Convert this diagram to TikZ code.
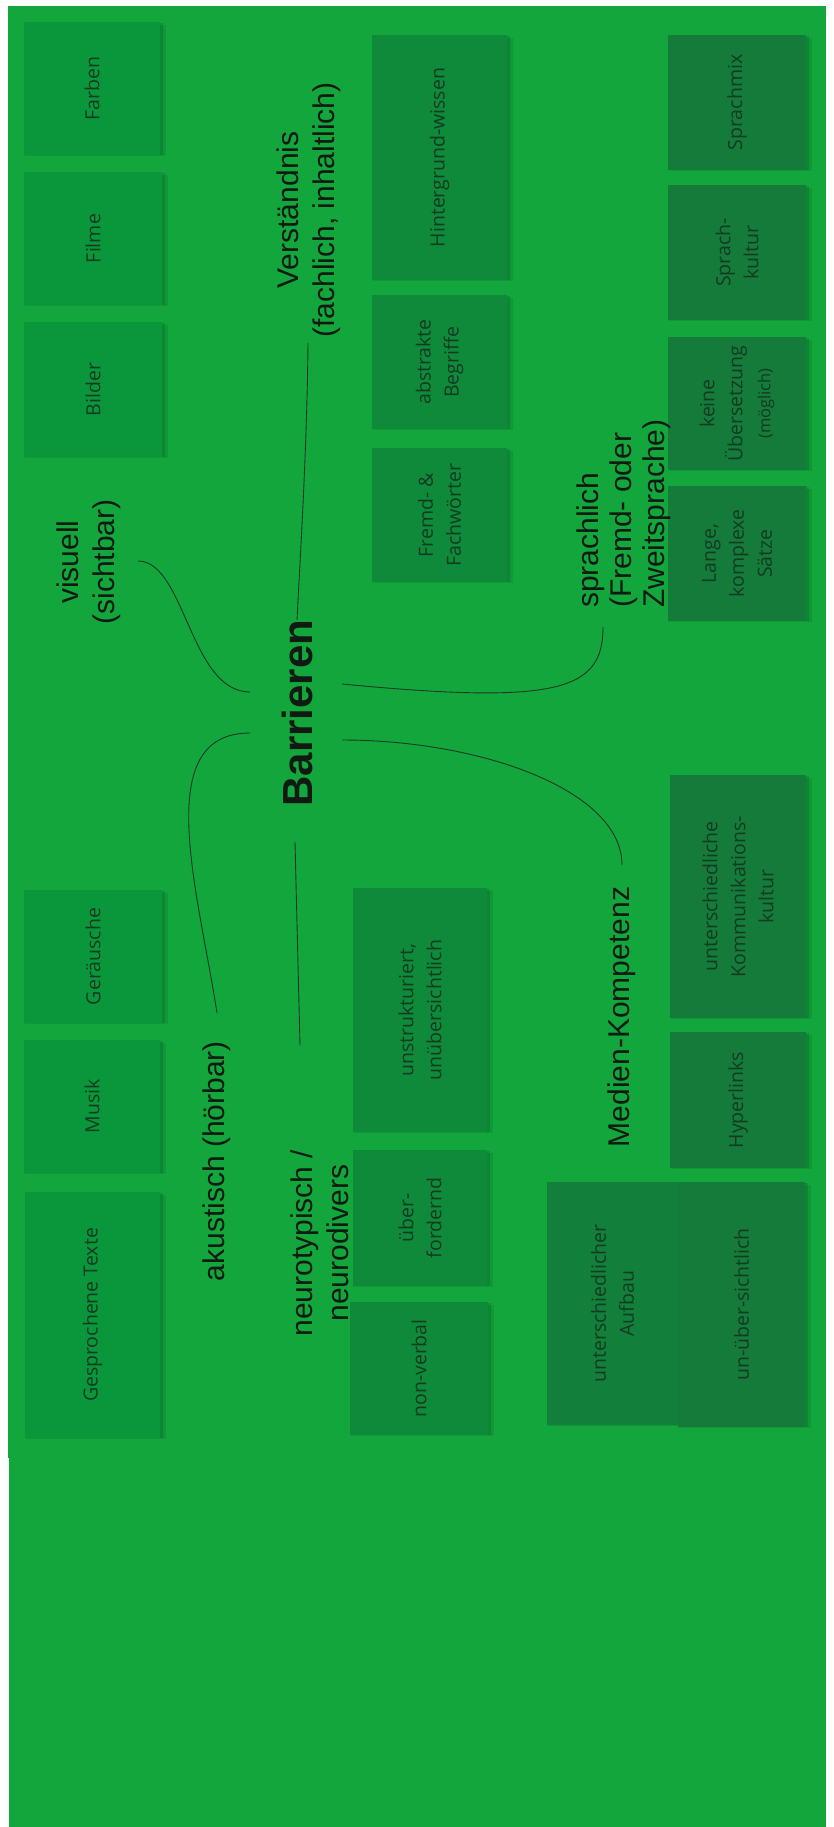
\documentclass[tikz,border=0pt]{standalone}
\usepackage{fontspec}
\setmainfont{Liberation Sans}
\newfontfamily\notefamily{Open Sans}
\usetikzlibrary{calc}

\definecolor{paper}{HTML}{12A63D}
\definecolor{noteA}{HTML}{0A963A}
\definecolor{noteB}{HTML}{0E8A3A}
\definecolor{noteBB}{HTML}{12803A}
\definecolor{noteC}{HTML}{157B3A}
\definecolor{inkc}{HTML}{101A12}
\definecolor{notetext}{HTML}{143A22}
\definecolor{linec}{HTML}{1E3A26}

% sticky note: name, x1, y1, x2, y2, colour, text (text runs bottom to top)
\newcommand\postit[7]{%
  \pgfmathsetmacro\postitlen{#5-#3}%
  \pgfmathsetmacro\postitdep{#4-#2}%
  \fill[black,opacity=.08] (#2+1,#3+3) rectangle (#4+6,#5+1);
  \fill[black,opacity=.12] (#2+1,#3+1) rectangle (#4+3,#5);
  \node[stickynote, fill=#6, minimum width=\postitlen pt, minimum height=\postitdep pt]
    (#1) at ({(#2+#4)/2},{(#3+#5)/2}) {#7};
}

\begin{document}
\begin{tikzpicture}[x=1pt,y=-1pt,
  cat/.style={rotate=90, align=center, inner sep=0, text=inkc,
              font=\fontsize{30}{36}\selectfont},
  stickynote/.style={rotate=90, align=center, inner sep=0, text=notetext,
              font=\notefamily\fontsize{19.5}{28}\selectfont},
  conn/.style={draw=linec, line width=0.9pt}]

\useasboundingbox (0,0) rectangle (833,1827);
\fill[white] (0,0) rectangle (833,1827);
\fill[paper] (8,6) rectangle (826,1458);
\fill[paper] (9,1458) rectangle (826,1827);

% visual barriers
\postit{farben}{24}{22}{160}{155}{noteA}{Farben}
\postit{filme}{24}{172}{162}{305}{noteA}{Filme}
\postit{bilder}{24}{322}{162}{457}{noteA}{Bilder}
% acoustic barriers
\postit{geraeusche}{24}{890}{162}{1023}{noteA}{Geräusche}
\postit{musik}{24}{1040}{160}{1173}{noteA}{Musik}
\postit{gesprochen}{25}{1192}{160}{1438}{noteA}{Gesprochene Texte}
% understanding
\postit{hintergrund}{372}{35}{507}{280}{noteB}{Hintergrund-wissen}
\postit{abstrakt}{372}{295}{507}{429}{noteB}{abstrakte\\Begriffe}
\postit{fremd}{372}{448}{507}{582}{noteB}{Fremd- \&\\Fachwörter}
% neurotypical / neurodivergent
\postit{unstrukt}{353}{888}{487}{1132}{noteB}{unstrukturiert,\\unübersichtlich}
\postit{ueberf}{353}{1150}{487}{1286}{noteB}{über-\\fordernd}
\postit{nonverbal}{350}{1302}{488}{1435}{noteB}{non-verbal}
% language
\postit{sprachmix}{668}{35}{806}{170}{noteC}{Sprachmix}
\postit{sprachkultur}{668}{185}{806}{320}{noteC}{Sprach-\\kultur}
\postit{keine}{668}{337}{806}{470}{noteC}{keine\\Übersetzung\\{\fontsize{16.5}{24}\selectfont(möglich)}}
\postit{lange}{668}{486}{806}{621}{noteC}{Lange,\\komplexe\\Sätze}
% media literacy
\postit{kommkultur}{670}{775}{806}{1018}{noteC}{unterschiedliche\\Kommunikations-\\kultur}
\postit{hyperlinks}{670}{1032}{806}{1168}{noteC}{Hyperlinks}
\postit{aufbau}{547}{1182}{678}{1425}{noteBB}{unterschiedlicher\\Aufbau}
\postit{unueber}{678}{1182}{805}{1427}{noteC}{un-über-sichtlich}

% centre and categories
\node[rotate=90, inner sep=0, text=inkc, font=\bfseries\fontsize{42}{48}\selectfont]
  (barr) at (297,713) {Barrieren};
\node[cat] (verst) at (309,210) {Verständnis\\(fachlich, inhaltlich)};
\node[cat] (visuell) at (89,562) {visuell\\(sichtbar)};
\node[cat] (akust) at (217,1161) {akustisch (hörbar)};
\node[cat] (neuro) at (320,1243) {neurotypisch /\\neurodivers};
\node[cat] (medien) at (622,1017) {Medien-Kompetenz};
\node[cat, align=left, anchor=west, font=\fontsize{30}{33}\selectfont]
  (sprach) at (624,608) {sprachlich\\(Fremd- oder\\Zweitsprache)};

% connectors
\draw[conn] ($(verst.center)+(-1,133)$) .. controls +(-1,107) and +(3,-60) .. ($(barr.center)+(0,-93)$);
\draw[conn] ($(visuell.center)+(49,-1)$) .. controls +(47,0) and +(-60,0) .. ($(barr.center)+(-47,-21)$);
\draw[conn] ($(barr.center)+(-47,20)$) .. controls +(-100,0) and +(-19,-123) .. ($(akust.center)+(0,-148)$);
\draw[conn] ($(barr.center)+(-2,129)$) -- ($(neuro.center)+(-20,-198)$);
\draw[conn] ($(barr.center)+(45,-29)$) .. controls +(218,21) and +(0,63) .. ($(sprach.west)+(-21,19)$);
\draw[conn] ($(barr.center)+(45,27)$) .. controls +(138,0) and +(0,-75) .. ($(medien.center)+(0,-152)$);

\end{tikzpicture}
\end{document}
